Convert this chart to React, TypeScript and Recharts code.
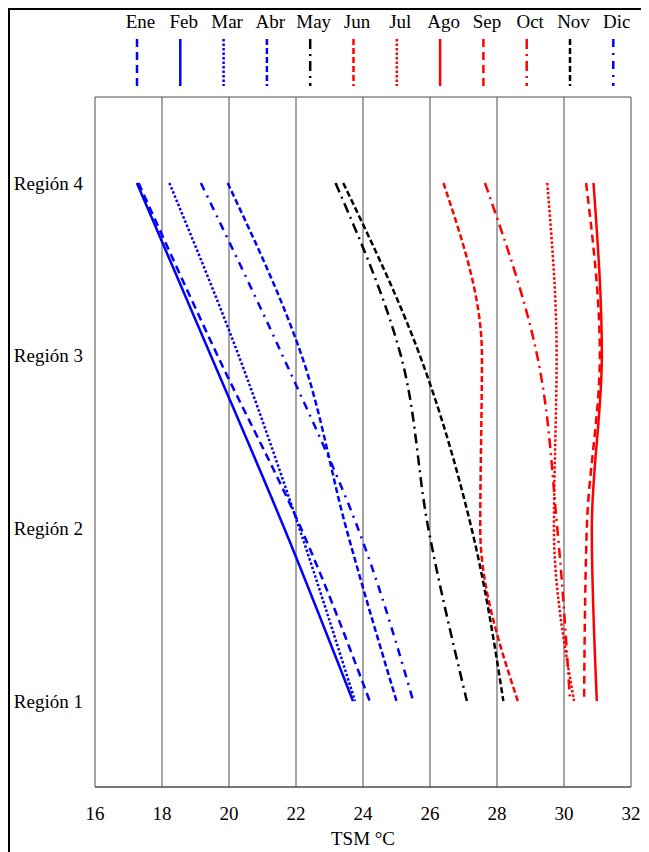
import { LineChart, Line, XAxis, YAxis, CartesianGrid, Label } from 'recharts'

// regiones de arriba hacia abajo
const regions = ['Región 4', 'Región 3', 'Región 2', 'Región 1']

const months = ['Ene', 'Feb', 'Mar', 'Abr', 'May', 'Jun', 'Jul', 'Ago', 'Sep', 'Oct', 'Nov', 'Dic']

// TSM °C por región (4, 3, 2, 1)
const ene = [17.3, 19.66, 22.15, 24.2]
const feb = [17.25, 19.46, 21.65, 23.7]
const mar = [18.22, 20.29, 22.1, 23.76]
const abr = [19.96, 22.17, 23.5, 25.0]
const may = [23.18, 25.13, 25.95, 27.1]
const jun = [26.4, 27.55, 27.5, 28.62]
const jul = [29.5, 29.78, 29.7, 30.3]
const ago = [30.88, 31.13, 30.83, 30.98]
const sep = [30.66, 31.07, 30.68, 30.6]
const oct = [27.64, 29.2, 29.8, 30.18]
const nov = [23.41, 25.7, 27.24, 28.19]
const dic = [19.16, 21.6, 23.85, 25.5]

const xTicks = [16, 18, 20, 22, 24, 26, 28, 30, 32]

const values: Record<string, number[]> = {
  Ene: ene, Feb: feb, Mar: mar, Abr: abr, May: may, Jun: jun,
  Jul: jul, Ago: ago, Sep: sep, Oct: oct, Nov: nov, Dic: dic,
}

const BLUE = '#0000ff'
const RED = '#ff0000'
const BLACK = '#000000'

const lineStyle: Record<string, { color: string; dash?: string; width: number }> = {
  Ene: { color: BLUE, dash: '8 5', width: 2.5 },
  Feb: { color: BLUE, width: 2.5 },
  Mar: { color: BLUE, dash: '2.5 2', width: 2.5 },
  Abr: { color: BLUE, dash: '6 3', width: 2.5 },
  May: { color: BLACK, dash: '10 5 2 5', width: 2.5 },
  Jun: { color: RED, dash: '6 3', width: 2.5 },
  Jul: { color: RED, dash: '2.5 2', width: 2.5 },
  Ago: { color: RED, width: 2.5 },
  Sep: { color: RED, dash: '8 5', width: 2.5 },
  Oct: { color: RED, dash: '10 5 2 5', width: 2.5 },
  Nov: { color: BLACK, dash: '6 3', width: 2.5 },
  Dic: { color: BLUE, dash: '8 6 2 6', width: 2.5 },
}

const data = regions.map((region, i) => {
  const row: Record<string, string | number> = { region }
  for (const m of months) row[m] = values[m][i]
  return row
})

const FONT = '"Liberation Serif", "Times New Roman", serif'
const GRID = '#4d4d4d'

function MonthLegend() {
  return (
    <svg width={632} height={80} style={{ position: 'absolute', top: 0, left: 0 }}>
      {months.map((m, i) => {
        const x = 127 + i * 43.3
        const s = lineStyle[m]
        return (
          <g key={m}>
            <text x={x + 3.5} y={18} textAnchor="middle" fontFamily={FONT} fontSize={19} fill="#000">
              {m}
            </text>
            <line
              x1={x}
              x2={x}
              y1={29}
              y2={76}
              stroke={s.color}
              strokeWidth={s.width}
              strokeDasharray={s.dash}
            />
          </g>
        )
      })}
    </svg>
  )
}

export default function App() {
  return (
    <div style={{ border: '2px solid #000', width: 632, height: 860 }}>
      <div style={{ position: 'relative', width: 632, height: 842 }}>
        <LineChart
          width={632}
          height={842}
          data={data}
          layout="vertical"
          margin={{ top: 87, right: 11, left: 0, bottom: 5 }}
        >
          {/* marco superior/inferior + líneas verticales */}
          <CartesianGrid
            horizontal={true}
            vertical={true}
            stroke={GRID}
            horizontalCoordinatesGenerator={({ offset }: any) => [offset.top, offset.top + offset.height]}
          />
          <XAxis
            type="number"
            domain={[16, 32]}
            ticks={xTicks}
            allowDataOverflow
            height={60}
            tickLine={false}
            tickSize={0}
            tickMargin={20}
            axisLine={{ stroke: GRID }}
            tick={{ fontFamily: FONT, fontSize: 19, fill: '#000' }}
          >
            <Label
              value="TSM °C"
              position="insideBottom"
              offset={2}
              style={{ fontFamily: FONT, fontSize: 19, fill: '#000' }}
            />
          </XAxis>
          <YAxis
            type="category"
            dataKey="region"
            width={85}
            padding={{ top: 86, bottom: 86 }}
            tickLine={false}
            tickSize={0}
            tickMargin={12}
            axisLine={false}
            tick={{ fontFamily: FONT, fontSize: 19, fill: '#000' }}
          />
          {months.map((m) => (
            <Line
              key={m}
              type="monotone"
              dataKey={m}
              stroke={lineStyle[m].color}
              strokeWidth={lineStyle[m].width}
              strokeDasharray={lineStyle[m].dash}
              dot={false}
              activeDot={false}
              isAnimationActive={false}
            />
          ))}
        </LineChart>
        <MonthLegend />
      </div>
    </div>
  )
}
